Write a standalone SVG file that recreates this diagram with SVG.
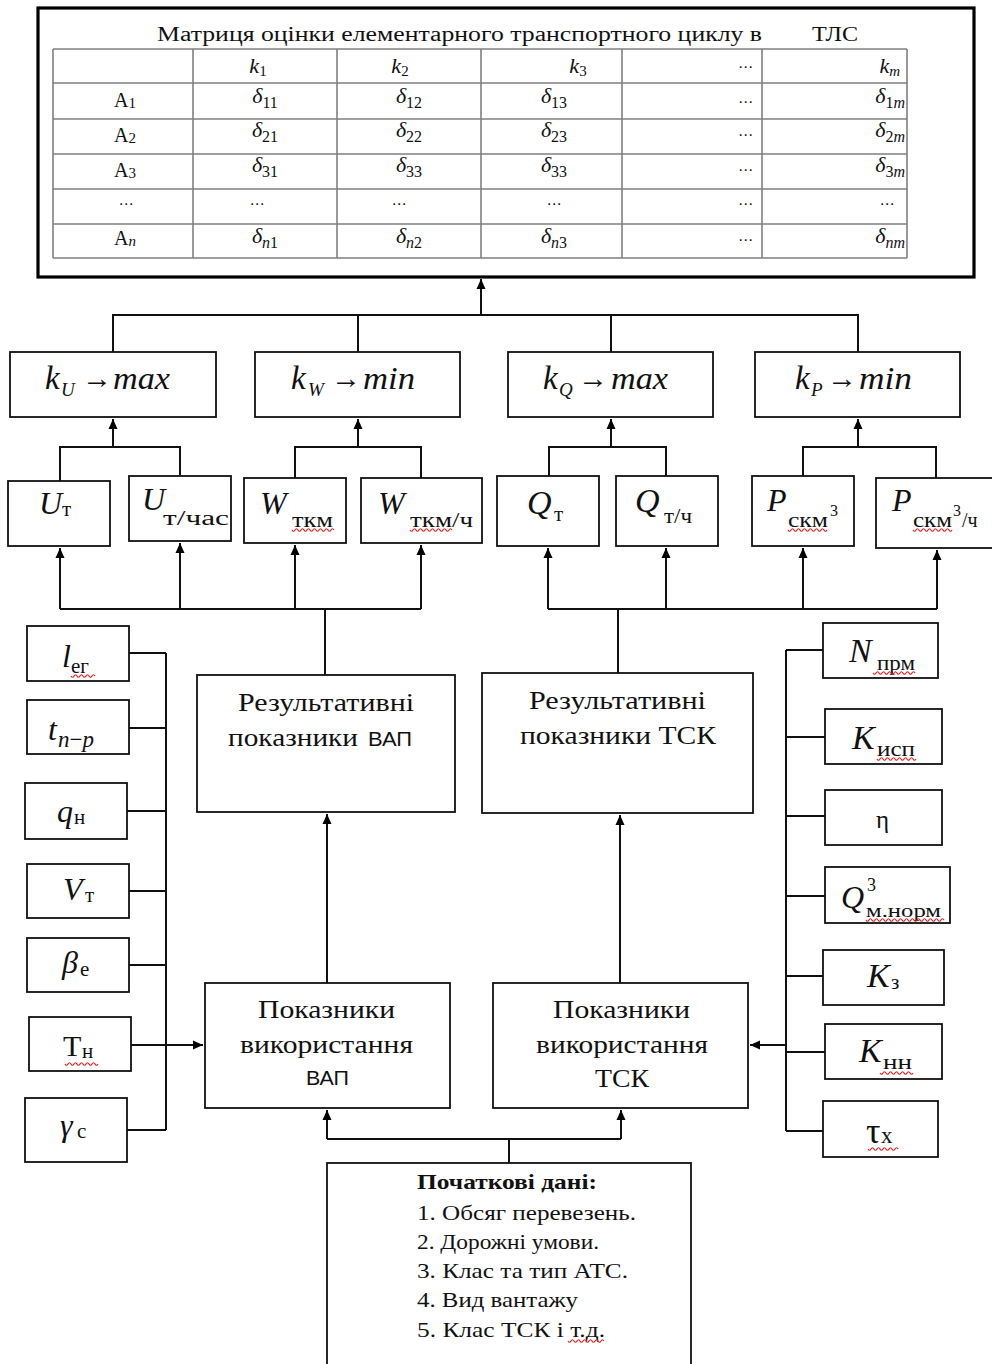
<svg xmlns="http://www.w3.org/2000/svg" width="992" height="1364" viewBox="0 0 992 1364">
<defs>
<marker id="ah" markerWidth="10" markerHeight="10" refX="10" refY="5" orient="auto" markerUnits="userSpaceOnUse">
<path d="M0,0.5 L10,5 L0,9.5 z" fill="#000"/>
</marker>
<style>
.box{fill:#fff;stroke:#111;stroke-width:1.8}
.frame{fill:#fff;stroke:#000;stroke-width:3.2}
.grid{stroke:#808080;stroke-width:1.6;fill:none}
.c{fill:none;stroke:#111;stroke-width:2}
.ca{fill:none;stroke:#111;stroke-width:2;marker-end:url(#ah)}
text{font-family:"Liberation Serif",serif;fill:#111}
.mi{font-style:italic}
.sans{font-family:"Liberation Sans",sans-serif}
.wave{fill:none;stroke:#e02020;stroke-width:1.2}
.dots{font-family:"DejaVu Sans",sans-serif;font-size:15px}
.big{font-size:32px}
.sub{font-size:21px}
.mid{font-size:25px}
.lst{font-size:21px}
.arr{font-size:30px}
</style>
</defs>

<g id="matrix">
<rect class="frame" x="38" y="8" width="936" height="269"/>
<path class="grid" d="M53,49 H907 M53,83 H907 M53,119 H907 M53,154 H907 M53,189 H907 M53,224 H907 M53,258 H907 M53,49 V258 M193,49 V258 M337,49 V258 M481,49 V258 M622,49 V258 M762,49 V258 M907,49 V258"/>
<text x="157" y="41" font-size="20" textLength="605" lengthAdjust="spacingAndGlyphs">Матриця оцінки  елементарного транспортного  циклу в</text>
<text x="812" y="41" font-size="20" textLength="46" lengthAdjust="spacingAndGlyphs">ТЛС</text>
<!-- header -->
<text x="258" y="73" text-anchor="middle" font-size="22"><tspan class="mi">k</tspan><tspan font-size="15" dy="3">1</tspan></text>
<text x="400" y="73" text-anchor="middle" font-size="22"><tspan class="mi">k</tspan><tspan font-size="15" dy="3">2</tspan></text>
<text x="578" y="73" text-anchor="middle" font-size="22"><tspan class="mi">k</tspan><tspan font-size="15" dy="3">3</tspan></text>
<text class="dots" x="753" y="72" text-anchor="end">⋯</text>
<text x="900" y="73" text-anchor="end" font-size="22"><tspan class="mi">k</tspan><tspan font-size="15" dy="3" class="mi">m</tspan></text>
<!-- row 1 -->
<text x="125" y="107" text-anchor="middle" font-size="20">A<tspan font-size="15" dy="1">1</tspan></text>
<text x="265" y="103" text-anchor="middle" font-size="22"><tspan class="mi">δ</tspan><tspan font-size="16" dy="5">11</tspan></text>
<text x="409" y="103" text-anchor="middle" font-size="22"><tspan class="mi">δ</tspan><tspan font-size="16" dy="5">12</tspan></text>
<text x="554" y="103" text-anchor="middle" font-size="22"><tspan class="mi">δ</tspan><tspan font-size="16" dy="5">13</tspan></text>
<text class="dots" x="753" y="107" text-anchor="end">⋯</text>
<text x="905" y="103" text-anchor="end" font-size="22"><tspan class="mi">δ</tspan><tspan font-size="16" dy="5">1</tspan><tspan font-size="16" class="mi">m</tspan></text>
<!-- row 2 -->
<text x="125" y="142" text-anchor="middle" font-size="20">A<tspan font-size="15" dy="1">2</tspan></text>
<text x="265" y="137" text-anchor="middle" font-size="22"><tspan class="mi">δ</tspan><tspan font-size="16" dy="5">21</tspan></text>
<text x="409" y="137" text-anchor="middle" font-size="22"><tspan class="mi">δ</tspan><tspan font-size="16" dy="5">22</tspan></text>
<text x="554" y="137" text-anchor="middle" font-size="22"><tspan class="mi">δ</tspan><tspan font-size="16" dy="5">23</tspan></text>
<text class="dots" x="753" y="140" text-anchor="end">⋯</text>
<text x="905" y="137" text-anchor="end" font-size="22"><tspan class="mi">δ</tspan><tspan font-size="16" dy="5">2</tspan><tspan font-size="16" class="mi">m</tspan></text>
<!-- row 3 -->
<text x="125" y="177" text-anchor="middle" font-size="20">A<tspan font-size="15" dy="1">3</tspan></text>
<text x="265" y="172" text-anchor="middle" font-size="22"><tspan class="mi">δ</tspan><tspan font-size="16" dy="5">31</tspan></text>
<text x="409" y="172" text-anchor="middle" font-size="22"><tspan class="mi">δ</tspan><tspan font-size="16" dy="5">33</tspan></text>
<text x="554" y="172" text-anchor="middle" font-size="22"><tspan class="mi">δ</tspan><tspan font-size="16" dy="5">33</tspan></text>
<text class="dots" x="753" y="175" text-anchor="end">⋯</text>
<text x="905" y="172" text-anchor="end" font-size="22"><tspan class="mi">δ</tspan><tspan font-size="16" dy="5">3</tspan><tspan font-size="16" class="mi">m</tspan></text>
<!-- row 4 -->
<text class="dots" x="126" y="209" text-anchor="middle">⋯</text>
<text class="dots" x="257" y="209" text-anchor="middle">⋯</text>
<text class="dots" x="399" y="209" text-anchor="middle">⋯</text>
<text class="dots" x="554" y="209" text-anchor="middle">⋯</text>
<text class="dots" x="753" y="209" text-anchor="end">⋯</text>
<text class="dots" x="887" y="209" text-anchor="middle">⋯</text>
<!-- row 5 -->
<text x="125" y="245" text-anchor="middle" font-size="20">A<tspan font-size="15" dy="1" class="mi">n</tspan></text>
<text x="265" y="243" text-anchor="middle" font-size="22"><tspan class="mi">δ</tspan><tspan font-size="16" dy="5" class="mi">n</tspan><tspan font-size="16">1</tspan></text>
<text x="409" y="243" text-anchor="middle" font-size="22"><tspan class="mi">δ</tspan><tspan font-size="16" dy="5" class="mi">n</tspan><tspan font-size="16">2</tspan></text>
<text x="554" y="243" text-anchor="middle" font-size="22"><tspan class="mi">δ</tspan><tspan font-size="16" dy="5" class="mi">n</tspan><tspan font-size="16">3</tspan></text>
<text class="dots" x="753" y="245" text-anchor="end">⋯</text>
<text x="905" y="243" text-anchor="end" font-size="22"><tspan class="mi">δ</tspan><tspan font-size="16" dy="5" class="mi">nm</tspan></text>
</g>

<g id="connectors">
<path class="ca" d="M481,315 V279"/>
<path class="c" d="M113,352 V315 H858 V352 M358,315 V352 M611,315 V352"/>
<path class="c" d="M60,481 V447 H180 V475 M295,478 V447 H421 V478 M549,476 V447 H666 V476 M803,476 V447 H936 V478"/>
<path class="ca" d="M113,447 V419"/>
<path class="ca" d="M358,447 V419"/>
<path class="ca" d="M611,447 V419"/>
<path class="ca" d="M858,447 V419"/>
<path class="c" d="M60,609 H421 M325,609 V675 M548,609 H937 M618,609 V673"/>
<path class="ca" d="M60,609 V548"/>
<path class="ca" d="M180,609 V543"/>
<path class="ca" d="M295,609 V545"/>
<path class="ca" d="M421,609 V545"/>
<path class="ca" d="M548,609 V548"/>
<path class="ca" d="M666,609 V548"/>
<path class="ca" d="M803,609 V548"/>
<path class="ca" d="M937,609 V550"/>
<path class="ca" d="M327,983 V814"/>
<path class="ca" d="M620,983 V815"/>
<path class="c" d="M129,653 H166 M129,728 H166 M127,811 H166 M129,891 H166 M129,965 H166 M127,1130 H166 M166,653 V1130"/>
<path class="ca" d="M131,1045 H203"/>
<path class="c" d="M823,650 H786 M825,737 H786 M825,816 H786 M825,896 H786 M823,976 H786 M825,1052 H786 M823,1131 H786 M786,650 V1131"/>
<path class="ca" d="M786,1045 H750"/>
<path class="c" d="M509,1163 V1139 M327,1139 H621"/>
<path class="ca" d="M327,1139 V1110"/>
<path class="ca" d="M621,1139 V1110"/>
</g>

<g id="kU">
<rect class="box" x="10" y="352" width="206" height="65"/>
<text y="389" font-size="31"><tspan x="45" class="mi" font-size="33">k</tspan><tspan x="61" y="396" font-size="19" class="mi">U</tspan><tspan x="82" y="388" class="arr">→</tspan><tspan x="113" y="389" class="mi" textLength="57" lengthAdjust="spacingAndGlyphs">max</tspan></text>
</g>
<g id="kW">
<rect class="box" x="255" y="352" width="205" height="65"/>
<text y="389" font-size="31"><tspan x="291" class="mi" font-size="33">k</tspan><tspan x="308" y="396" font-size="19" class="mi">W</tspan><tspan x="331" y="388" class="arr">→</tspan><tspan x="363" y="389" class="mi" textLength="52" lengthAdjust="spacingAndGlyphs">min</tspan></text>
</g>
<g id="kQ">
<rect class="box" x="508" y="352" width="205" height="65"/>
<text y="389" font-size="31"><tspan x="543" class="mi" font-size="33">k</tspan><tspan x="559" y="396" font-size="19" class="mi">Q</tspan><tspan x="578" y="388" class="arr">→</tspan><tspan x="611" y="389" class="mi" textLength="57" lengthAdjust="spacingAndGlyphs">max</tspan></text>
</g>
<g id="kP">
<rect class="box" x="755" y="352" width="205" height="65"/>
<text y="389" font-size="31"><tspan x="795" class="mi" font-size="33">k</tspan><tspan x="811" y="396" font-size="19" class="mi">P</tspan><tspan x="827" y="388" class="arr">→</tspan><tspan x="859" y="389" class="mi" textLength="53" lengthAdjust="spacingAndGlyphs">min</tspan></text>
</g>

<g id="Ut">
<rect class="box" x="8" y="481" width="102" height="65"/>
<text y="514"><tspan x="39" class="mi big">U</tspan><tspan x="62" y="516" class="sub">т</tspan></text>
</g>
<g id="Uth">
<rect class="box" x="129" y="476" width="102" height="65"/>
<text y="510"><tspan x="142" class="mi big">U</tspan><tspan x="163" y="525" font-size="20" textLength="66" lengthAdjust="spacingAndGlyphs">т/час</tspan></text>
</g>
<g id="Wtkm">
<rect class="box" x="244" y="478" width="102" height="65"/>
<text y="514"><tspan x="260" class="mi big">W</tspan><tspan x="292" y="527" font-size="20" textLength="41" lengthAdjust="spacingAndGlyphs">ткм</tspan></text>
<path class="wave" d="M292,530 q1.5,2.5 3,0 t3,0 t3,0 t3,0 t3,0 t3,0 t3,0 t3,0 t3,0 t3,0 t3,0 t3,0 t3,0 t3,0"/>
</g>
<g id="Wtkmh">
<rect class="box" x="361" y="478" width="121" height="65"/>
<text y="514"><tspan x="378" class="mi big">W</tspan><tspan x="410" y="527" font-size="20" textLength="63" lengthAdjust="spacingAndGlyphs">ткм/ч</tspan></text>
<path class="wave" d="M410,530 q1.5,2.5 3,0 t3,0 t3,0 t3,0 t3,0 t3,0 t3,0 t3,0 t3,0 t3,0 t3,0 t3,0 t3,0 t3,0"/>
</g>
<g id="Qt">
<rect class="box" x="497" y="476" width="102" height="70"/>
<text y="514"><tspan x="527" class="mi" font-size="34">Q</tspan><tspan x="554" y="521" class="sub">т</tspan></text>
</g>
<g id="Qth">
<rect class="box" x="616" y="476" width="102" height="70"/>
<text y="512"><tspan x="635" class="mi" font-size="34">Q</tspan><tspan x="664" y="523" font-size="20" textLength="28" lengthAdjust="spacingAndGlyphs">т/ч</tspan></text>
</g>
<g id="Pskm">
<rect class="box" x="752" y="476" width="102" height="70"/>
<text y="511"><tspan x="767" class="mi big">P</tspan><tspan x="788" y="527" font-size="20" textLength="40" lengthAdjust="spacingAndGlyphs">скм</tspan><tspan x="830" y="516" font-size="16">3</tspan></text>
<path class="wave" d="M788,530 q1.5,2.5 3,0 t3,0 t3,0 t3,0 t3,0 t3,0 t3,0 t3,0 t3,0 t3,0 t3,0 t3,0 t3,0"/>
</g>
<g id="Pskmh">
<rect class="box" x="876" y="478" width="120" height="70"/>
<text y="511"><tspan x="892" class="mi big">P</tspan><tspan x="913" y="527" font-size="20" textLength="39" lengthAdjust="spacingAndGlyphs">скм</tspan><tspan x="953" y="516" font-size="16">3</tspan><tspan x="962" y="527" font-size="20">/ч</tspan></text>
<path class="wave" d="M913,530 q1.5,2.5 3,0 t3,0 t3,0 t3,0 t3,0 t3,0 t3,0 t3,0 t3,0 t3,0 t3,0 t3,0 t3,0"/>
</g>

<g id="lg">
<rect class="box" x="27" y="626" width="102" height="55"/>
<text y="667"><tspan x="62" class="mi big">l</tspan><tspan x="71" y="673" class="sub">ег</tspan></text>
<path class="wave" d="M71,676 q1.5,2.5 3,0 t3,0 t3,0 t3,0 t3,0 t3,0 t3,0 t3,0"/>
</g>
<g id="tnp">
<rect class="box" x="27" y="700" width="102" height="54"/>
<text y="740"><tspan x="48" class="mi big">t</tspan><tspan x="58" y="747" font-size="23" class="mi">n</tspan><tspan font-size="23">−</tspan><tspan font-size="23" class="mi">p</tspan></text>
</g>
<g id="qn">
<rect class="box" x="25" y="783" width="102" height="56"/>
<text y="822"><tspan x="57" class="mi big">q</tspan><tspan x="74" y="824" class="sub">н</tspan></text>
</g>
<g id="Vt">
<rect class="box" x="27" y="864" width="102" height="54"/>
<text y="900"><tspan x="63" class="mi big">V</tspan><tspan x="85" y="902" class="sub">т</tspan></text>
</g>
<g id="be">
<rect class="box" x="27" y="938" width="102" height="54"/>
<text y="973"><tspan x="62" class="mi big">β</tspan><tspan x="80" y="976" class="sub">е</tspan></text>
</g>
<g id="Tn">
<rect class="box" x="29" y="1017" width="102" height="54"/>
<text y="1056"><tspan x="63" font-size="30">Т</tspan><tspan x="82" y="1058" font-size="21">н</tspan></text>
<path class="wave" d="M65,1064 q1.5,2.5 3,0 t3,0 t3,0 t3,0 t3,0 t3,0 t3,0 t3,0 t3,0 t3,0 t3,0"/>
</g>
<g id="gc">
<rect class="box" x="25" y="1098" width="102" height="64"/>
<text y="1136"><tspan x="60" class="mi big">γ</tspan><tspan x="77" y="1138" class="sub">с</tspan></text>
</g>

<g id="Nprm">
<rect class="box" x="823" y="623" width="115" height="55"/>
<text y="662"><tspan x="849" class="mi" font-size="34">N</tspan><tspan x="877" y="670" class="sub" textLength="38" lengthAdjust="spacingAndGlyphs">прм</tspan></text>
<path class="wave" d="M873,673 q1.5,2.5 3,0 t3,0 t3,0 t3,0 t3,0 t3,0 t3,0 t3,0 t3,0 t3,0 t3,0 t3,0 t3,0 t3,0"/>
</g>
<g id="Kisp">
<rect class="box" x="825" y="709" width="117" height="55"/>
<text y="749"><tspan x="852" class="mi" font-size="34">K</tspan><tspan x="877" y="756" class="sub" textLength="38" lengthAdjust="spacingAndGlyphs">исп</tspan></text>
<path class="wave" d="M877,759 q1.5,2.5 3,0 t3,0 t3,0 t3,0 t3,0 t3,0 t3,0 t3,0 t3,0 t3,0 t3,0 t3,0 t3,0"/>
</g>
<g id="eta">
<rect class="box" x="825" y="790" width="117" height="55"/>
<text x="876" y="828" font-size="25">η</text>
</g>
<g id="Qnorm">
<rect class="box" x="825" y="867" width="125" height="56"/>
<text y="908"><tspan x="841" class="mi big">Q</tspan><tspan x="867" y="891" font-size="18">3</tspan><tspan x="866" y="917" font-size="19" textLength="75" lengthAdjust="spacingAndGlyphs">м.норм</tspan></text>
<path class="wave" d="M866,920 q1.5,2.5 3,0 t3,0 t3,0 t3,0 t3,0 t3,0 t3,0 t3,0 t3,0 t3,0 t3,0 t3,0 t3,0 t3,0 t3,0 t3,0 t3,0 t3,0 t3,0 t3,0 t3,0 t3,0 t3,0 t3,0 t3,0 t3,0"/>
</g>
<g id="Kz">
<rect class="box" x="823" y="950" width="121" height="55"/>
<text y="987"><tspan x="867" class="mi" font-size="34">K</tspan><tspan x="891" y="989" class="sub">з</tspan></text>
</g>
<g id="Knn">
<rect class="box" x="825" y="1024" width="117" height="55"/>
<text y="1062"><tspan x="859" class="mi" font-size="34">K</tspan><tspan x="883" y="1069" class="sub" textLength="29" lengthAdjust="spacingAndGlyphs">нн</tspan></text>
<path class="wave" d="M880,1073 q1.5,2.5 3,0 t3,0 t3,0 t3,0 t3,0 t3,0 t3,0 t3,0 t3,0 t3,0 t3,0"/>
</g>
<g id="tx">
<rect class="box" x="823" y="1101" width="115" height="56"/>
<text y="1143"><tspan x="866" font-size="36">τ</tspan><tspan x="881" font-size="23">х</tspan></text>
<path class="wave" d="M868,1149 q1.5,2.5 3,0 t3,0 t3,0 t3,0 t3,0 t3,0 t3,0 t3,0 t3,0 t3,0"/>
</g>

<g id="resVAP">
<rect class="box" x="197" y="675" width="258" height="137"/>
<text x="238" y="711" class="mid" textLength="176" lengthAdjust="spacingAndGlyphs">Результативні</text>
<text x="228" y="746" class="mid" textLength="130" lengthAdjust="spacingAndGlyphs">показники</text>
<text x="368" y="746" class="sans" font-size="21" textLength="44" lengthAdjust="spacingAndGlyphs">ВАП</text>
</g>
<g id="resTSK">
<rect class="box" x="482" y="673" width="271" height="140"/>
<text x="529" y="709" class="mid" textLength="177" lengthAdjust="spacingAndGlyphs">Результативні</text>
<text x="520" y="744" class="mid" textLength="196" lengthAdjust="spacingAndGlyphs">показники ТСК</text>
</g>
<g id="useVAP">
<rect class="box" x="205" y="983" width="245" height="125"/>
<text x="258" y="1018" class="mid" textLength="137" lengthAdjust="spacingAndGlyphs">Показники</text>
<text x="240" y="1053" class="mid" textLength="173" lengthAdjust="spacingAndGlyphs">використання</text>
<text x="306" y="1085" class="sans" font-size="21" textLength="43" lengthAdjust="spacingAndGlyphs">ВАП</text>
</g>
<g id="useTSK">
<rect class="box" x="493" y="983" width="255" height="125"/>
<text x="553" y="1018" class="mid" textLength="137" lengthAdjust="spacingAndGlyphs">Показники</text>
<text x="536" y="1053" class="mid" textLength="172" lengthAdjust="spacingAndGlyphs">використання</text>
<text x="595" y="1087" class="mid" textLength="54" lengthAdjust="spacingAndGlyphs">ТСК</text>
</g>

<g id="initial">
<rect class="box" x="327" y="1163" width="364" height="210"/>
<text x="417" y="1189" class="lst" font-weight="bold" textLength="180" lengthAdjust="spacingAndGlyphs">Початкові дані:</text>
<text x="417" y="1220" class="lst" textLength="219" lengthAdjust="spacingAndGlyphs">1. Обсяг перевезень.</text>
<text x="417" y="1249" class="lst" textLength="182" lengthAdjust="spacingAndGlyphs">2. Дорожні умови.</text>
<text x="417" y="1278" class="lst" textLength="211" lengthAdjust="spacingAndGlyphs">3. Клас та тип АТС.</text>
<text x="417" y="1307" class="lst" textLength="161" lengthAdjust="spacingAndGlyphs">4. Вид вантажу</text>
<text x="417" y="1337" class="lst" textLength="188" lengthAdjust="spacingAndGlyphs">5. Клас ТСК і т.д.</text>
<path class="wave" d="M568,1341 q1.5,2.5 3,0 t3,0 t3,0 t3,0 t3,0 t3,0 t3,0 t3,0 t3,0 t3,0 t3,0 t3,0"/>
</g>
</svg>
